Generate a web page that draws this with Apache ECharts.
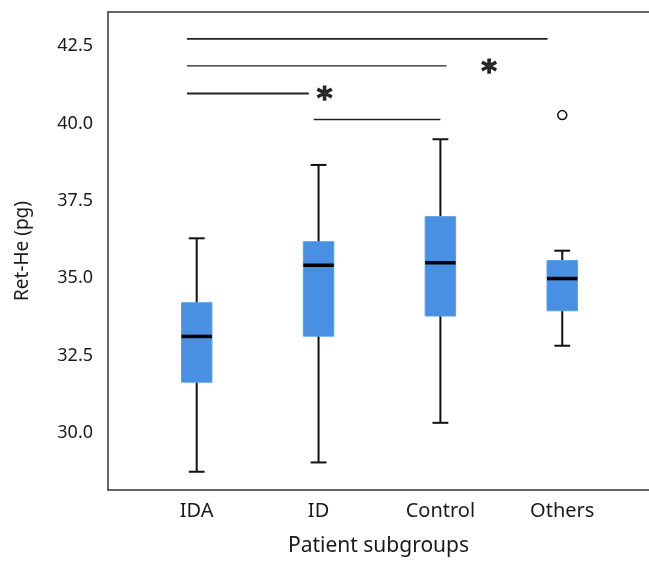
<!DOCTYPE html>
<html>
<head>
<meta charset="utf-8">
<script src="https://cdn.jsdelivr.net/npm/echarts@6/dist/echarts.min.js"></script>
<style>
  html, body { margin: 0; padding: 0; background: #fff; }
  #chart { width: 649px; height: 562px; }
</style>
</head>
<body>
<div id="chart"></div>
<script>
// box statistics per subgroup
var categories = ['IDA', 'ID', 'Control', 'Others'];
var whiskerLow = [28.75, 29.05, 30.33, 32.82];
var q1 = [31.64, 33.13, 33.78, 33.95];
var median = [33.12, 35.42, 35.50, 34.99];
var q3 = [34.21, 36.18, 36.99, 35.57];
var whiskerHigh = [36.29, 38.66, 39.49, 35.89];
var outliers = [[3, 40.27]];
var yTicks = [30, 32.5, 35, 37.5, 40, 42.5];

// significance brackets (x in category units)
var sigStart = [-0.08, -0.08, -0.08, 0.96];
var sigEnd = [2.88, 2.05, 0.92, 2.0];
var sigY = [42.73, 41.86, 40.97, 40.13];
var sigWidth = [1.8, 1.3, 2, 1.5];
var stars = [[1.05, 40.92], [2.4, 41.79]];

var chart = echarts.init(document.getElementById('chart'));

var boxData = categories.map(function (c, i) {
    return [i, whiskerLow[i], q1[i], median[i], q3[i], whiskerHigh[i]];
});

function renderBox(params, api) {
    var x = api.value(0);
    var unit = api.size([1, 0])[0];
    var half = unit * 0.125;
    var cap = unit * 0.065;
    var pLow = api.coord([x, api.value(1)]);
    var pQ1 = api.coord([x, api.value(2)]);
    var pMed = api.coord([x, api.value(3)]);
    var pQ3 = api.coord([x, api.value(4)]);
    var pHigh = api.coord([x, api.value(5)]);
    var black = { stroke: '#111', lineWidth: 2 };
    return {
        type: 'group',
        children: [
            { type: 'line', shape: { x1: pLow[0], y1: pLow[1], x2: pQ1[0], y2: pQ1[1] }, style: black },
            { type: 'line', shape: { x1: pQ3[0], y1: pQ3[1], x2: pHigh[0], y2: pHigh[1] }, style: black },
            { type: 'line', shape: { x1: pLow[0] - cap, y1: pLow[1], x2: pLow[0] + cap, y2: pLow[1] }, style: black },
            { type: 'line', shape: { x1: pHigh[0] - cap, y1: pHigh[1], x2: pHigh[0] + cap, y2: pHigh[1] }, style: black },
            { type: 'rect', shape: { x: pQ3[0] - half, y: pQ3[1], width: half * 2, height: pQ1[1] - pQ3[1] },
              style: { fill: '#4a90e2', stroke: '#5b9de8', lineWidth: 1 } },
            { type: 'line', shape: { x1: pMed[0] - half, y1: pMed[1], x2: pMed[0] + half, y2: pMed[1] },
              style: { stroke: '#000', lineWidth: 3.5 } }
        ]
    };
}

var series = [{
    type: 'custom',
    renderItem: renderBox,
    data: boxData,
    z: 3
}, {
    type: 'scatter',
    data: outliers,
    symbol: 'circle',
    symbolSize: 9,
    itemStyle: { color: '#fff', borderColor: '#111', borderWidth: 1.5, opacity: 1 },
    z: 4
}, {
    type: 'scatter',
    data: stars,
    symbolSize: 0,
    label: {
        show: true, position: 'inside', formatter: '*',
        fontSize: 30, fontWeight: 'bold', color: '#000', fontFamily: 'DejaVu Sans',
        textBorderColor: '#000', textBorderWidth: 1.2,
        offset: [0, 5]
    }
}];

sigY.forEach(function (y, i) {
    series.push({
        type: 'line',
        data: [[sigStart[i], y], [sigEnd[i], y]],
        symbol: 'none',
        lineStyle: { color: '#222', width: sigWidth[i] },
        silent: true
    });
});

chart.setOption({
    backgroundColor: '#fff',
    animation: false,
    textStyle: { fontFamily: 'Noto Sans', color: '#1a1a1a' },
    grid: { left: 108, right: -2, top: 12, bottom: 72 },
    xAxis: [{
        type: 'value',
        min: -0.728,
        max: 3.712,
        name: 'Patient subgroups',
        nameLocation: 'middle',
        nameGap: 46,
        nameTextStyle: { fontSize: 21, color: '#1a1a1a' },
        axisLine: { show: true, onZero: false, lineStyle: { color: '#333', width: 1.5 } },
        axisTick: { show: false },
        splitLine: { show: false },
        axisLabel: {
            customValues: [0, 1, 2, 3],
            formatter: function (v) { return categories[Math.round(v)]; },
            fontSize: 20, color: '#1a1a1a', margin: 11
        }
    }, {
        type: 'value',
        position: 'top',
        min: -0.728,
        max: 3.712,
        axisLine: { show: true, onZero: false, lineStyle: { color: '#333', width: 1.5 } },
        axisTick: { show: false },
        axisLabel: { show: false },
        splitLine: { show: false }
    }],
    yAxis: {
        type: 'value',
        min: 28.16,
        max: 43.6,
        name: 'Ret-He (pg)',
        nameLocation: 'middle',
        nameGap: 76,
        nameTextStyle: { fontSize: 19, color: '#1a1a1a' },
        axisLine: { show: true, onZero: false, lineStyle: { color: '#333', width: 1.5 } },
        axisTick: { show: false },
        splitLine: { show: false },
        axisLabel: {
            customValues: yTicks,
            formatter: function (v) { return v.toFixed(1); },
            fontSize: 18, color: '#1a1a1a', margin: 15
        }
    },
    series: series
});
</script>
</body>
</html>
